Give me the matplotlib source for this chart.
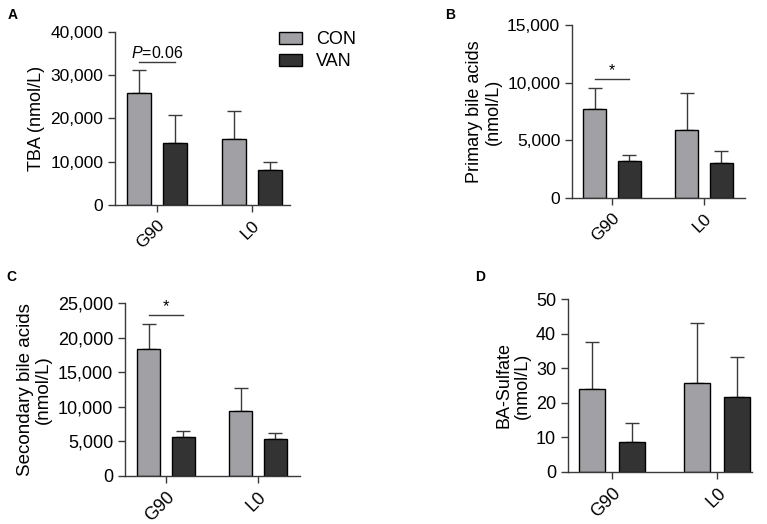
import matplotlib
matplotlib.use("Agg")
import matplotlib.pyplot as plt
from matplotlib.patches import Patch
from matplotlib.ticker import FuncFormatter

plt.rcParams['font.family'] = ['Liberation Sans', 'DejaVu Sans']
plt.rcParams['mathtext.fontset'] = 'custom'
plt.rcParams['mathtext.rm'] = 'Liberation Sans'
plt.rcParams['mathtext.it'] = 'Liberation Sans:italic'

# ---------- data (mean and SD) ----------
groups = ["G90", "L0"]
series = ["CON", "VAN"]

tba_con = [26000, 15150]
tba_con_sd = [5150, 6550]
tba_van = [14450, 8080]
tba_van_sd = [6300, 1850]

primary_con = [7730, 5860]
primary_con_sd = [1850, 3230]
primary_van = [3170, 3000]
primary_van_sd = [550, 1040]

secondary_con = [18400, 9450]
secondary_con_sd = [3500, 3330]
secondary_van = [5600, 5300]
secondary_van_sd = [920, 870]

sulfate_con = [23.9, 25.6]
sulfate_con_sd = [13.8, 17.6]
sulfate_van = [8.8, 21.7]
sulfate_van_sd = [5.5, 11.6]

CON_COLOR = '#a1a1a5'
VAN_COLOR = '#333333'
AX_COLOR = '#3a3a3a'

W, H = 767, 524
fig = plt.figure(figsize=(W / 100, H / 100), dpi=100)


def px_axes(left, top, right, bottom):
    # axes box from pixel coords (origin top-left)
    return fig.add_axes([left / W, 1 - bottom / H, (right - left) / W, (bottom - top) / H])


def panel(ax, con, con_sd, van, van_sd, ymax, ystep, ylabel, xlim, fs, lfs, sig=None):
    off = 0.19
    bw = 0.25
    xs = range(len(groups))
    xc = [x - off for x in xs]
    xv = [x + off for x in xs]
    ekw = dict(ecolor=AX_COLOR, elinewidth=1.0, capthick=1.0)
    ax.bar(xc, con, bw, color=CON_COLOR, edgecolor='black', linewidth=1.0, zorder=2)
    ax.bar(xv, van, bw, color=VAN_COLOR, edgecolor='black', linewidth=1.0, zorder=2)
    ax.errorbar(xc, con, yerr=[[0] * len(con), con_sd], fmt='none', capsize=5, zorder=1, **ekw)
    ax.errorbar(xv, van, yerr=[[0] * len(van), van_sd], fmt='none', capsize=5, zorder=1, **ekw)

    ax.set_xlim(*xlim)
    ax.set_ylim(0, ymax)
    ax.set_yticks([i * ystep for i in range(int(round(ymax / ystep)) + 1)])
    ax.yaxis.set_major_formatter(FuncFormatter(lambda v, p: f"{v:,.0f}"))
    ax.set_xticks(list(xs))
    ax.set_xticklabels(groups, rotation=45, ha='right', rotation_mode='anchor')
    for s in ['top', 'right']:
        ax.spines[s].set_visible(False)
    for s in ['left', 'bottom']:
        ax.spines[s].set_color(AX_COLOR)
        ax.spines[s].set_linewidth(1.0)
    ax.tick_params(colors=AX_COLOR, labelcolor='black', length=5, width=1.0, labelsize=fs)
    ax.tick_params(axis='x', pad=4)
    ax.set_ylabel(ylabel, fontsize=lfs, linespacing=1.1)

    if sig is not None:
        text, y = sig
        ax.plot([xc[0], xv[0]], [y, y], color=AX_COLOR, lw=1.0, clip_on=False)
        ax.text((xc[0] + xv[0]) / 2, y + ymax * 0.005, text, ha='center', va='bottom',
                fontsize=fs - 1 if text != '*' else fs - 1)


axA = px_axes(115, 32, 290, 205)
panel(axA, tba_con, tba_con_sd, tba_van, tba_van_sd, 40000, 10000, "TBA (nmol/L)",
      (-0.44, 1.4), 12.5, 13, sig=("$\\it{P}$=0.06", 33000))

axB = px_axes(572, 25, 745, 198)
panel(axB, primary_con, primary_con_sd, primary_van, primary_van_sd, 15000, 5000,
      "Primary bile acids\n(nmol/L)", (-0.435, 1.446), 12.5, 13, sig=("*", 10300))

axC = px_axes(125, 303, 300, 476)
panel(axC, secondary_con, secondary_con_sd, secondary_van, secondary_van_sd, 25000, 5000,
      "Secondary bile acids\n(nmol/L)", (-0.446, 1.457), 13, 13.5, sig=("*", 23300))

axD = px_axes(568, 299, 752, 472)
panel(axD, sulfate_con, sulfate_con_sd, sulfate_van, sulfate_van_sd, 50, 10,
      "BA-Sulfate\n(nmol/L)", (-0.42, 1.333), 13, 13)

handles = [Patch(facecolor=CON_COLOR, edgecolor='black', linewidth=1.0),
           Patch(facecolor=VAN_COLOR, edgecolor='black', linewidth=1.0)]
fig.legend(handles, series, loc='upper left', bbox_to_anchor=(279 / W, 1 - 31 / H),
           frameon=False, fontsize=13, handlelength=1.3, handleheight=0.65,
           handletextpad=0.75, labelspacing=0.3, borderpad=0, borderaxespad=0)

for lbl, x, y in [("A", 8, 15), ("B", 445, 15), ("C", 6, 277), ("D", 475, 277)]:
    fig.text(x / W, 1 - y / H, lbl, fontsize=10, fontweight='bold', va='center', ha='left')

fig.savefig("out.png", dpi=100)
